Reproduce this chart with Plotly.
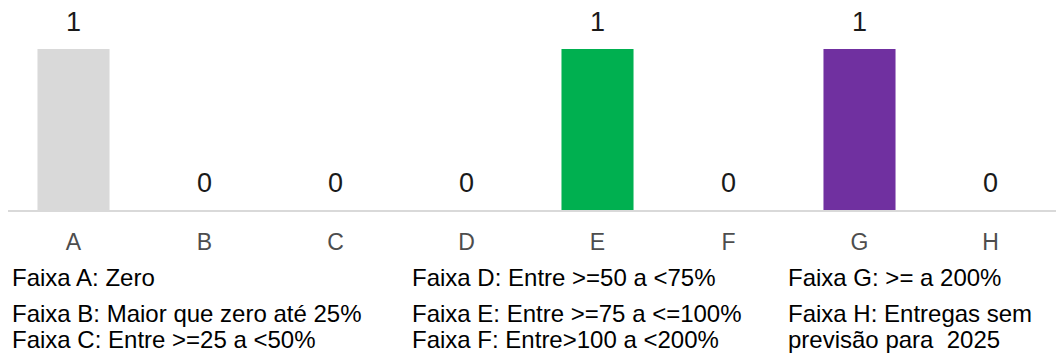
import plotly.graph_objects as go

# Faixas de desempenho e quantidade de entregas em cada uma
categorias = ["A", "B", "C", "D", "E", "F", "G", "H"]
quantidades = [1, 0, 0, 0, 1, 0, 1, 0]
cores = ["#D9D9D9", "#D9D9D9", "#D9D9D9", "#D9D9D9",
         "#00B050", "#D9D9D9", "#7030A0", "#D9D9D9"]

# Legenda das faixas, em três colunas
coluna_1 = ["Faixa A: Zero",
            "Faixa B: Maior que zero até 25%",
            "Faixa C: Entre >=25 a <50%"]
coluna_2 = ["Faixa D: Entre >=50 a <75%",
            "Faixa E: Entre >=75 a <=100%",
            "Faixa F: Entre>100 a <200%"]
coluna_3 = ["Faixa G: >= a 200%",
            "Faixa H: Entregas sem",
            "previsão para\u00a0 2025"]

W, H = 1056, 354
M_L, M_R, M_T, M_B = 8, 0, 49, 144
FONTE = "Liberation Sans, Arial, sans-serif"

fig = go.Figure(
    go.Bar(
        x=categorias,
        y=quantidades,
        marker=dict(color=cores, line=dict(width=0)),
        hoverinfo="skip",
    )
)

# Rótulos de valor acima de cada barra
for cat, val in zip(categorias, quantidades):
    fig.add_annotation(
        x=cat, y=val, xref="x", yref="y",
        text=str(val), showarrow=False,
        yanchor="bottom", yshift=10,
        font=dict(family=FONTE, size=27, color="#1a1a1a"),
    )

# Legenda das faixas abaixo do eixo
colunas = [(coluna_1, 11), (coluna_2, 411), (coluna_3, 787)]
linhas_px = [277, 313, 339]
plot_h = H - M_T - M_B
plot_w = W - M_L - M_R
for textos, x_px in colunas:
    for texto, y_px in zip(textos, linhas_px):
        fig.add_annotation(
            x=(x_px - M_L) / plot_w, y=(H - M_B - y_px) / plot_h,
            xref="paper", yref="paper",
            text=texto, showarrow=False,
            xanchor="left", yanchor="middle", borderpad=0,
            font=dict(family=FONTE, size=24, color="#000000"),
        )

fig.update_layout(
    width=W, height=H,
    margin=dict(l=M_L, r=M_R, t=M_T, b=M_B, pad=0),
    paper_bgcolor="white", plot_bgcolor="white",
    bargap=0.45,
    showlegend=False,
    xaxis=dict(
        type="category",
        range=[-0.5, 7.5],
        showline=True, linecolor="#D9D9D9", linewidth=2,
        showgrid=False, zeroline=False,
        ticks="", ticklabelstandoff=10,
        tickfont=dict(family=FONTE, size=23, color="#4d4d4d"),
        fixedrange=True,
    ),
    yaxis=dict(
        range=[0, 1],
        visible=False,
        showgrid=False, zeroline=False,
        fixedrange=True,
    ),
)

fig.write_html("out.html")
